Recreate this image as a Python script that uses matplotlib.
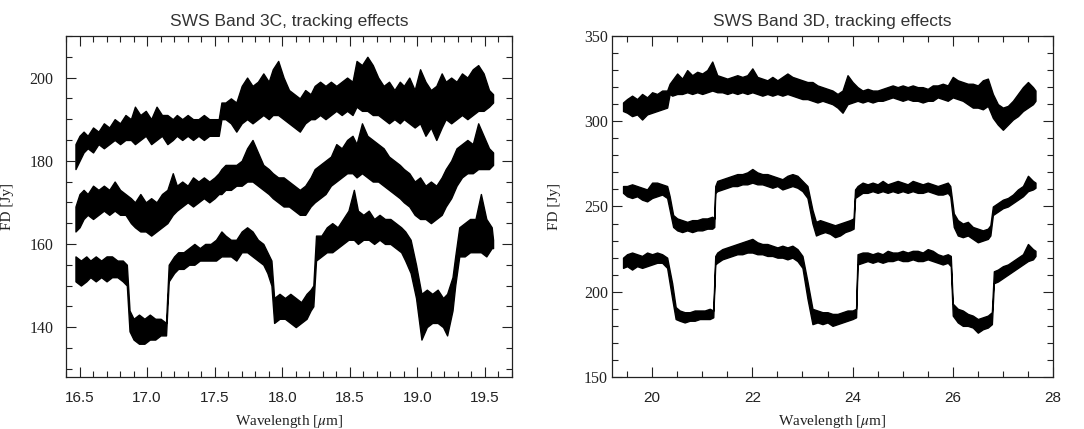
import matplotlib
matplotlib.use("Agg")
import matplotlib.pyplot as plt
from matplotlib.ticker import MultipleLocator

# ---- SWS band 3C (left panel): three scans, lower / upper noise envelope [Jy]
wl_3c = [16.47, 16.50, 16.53, 16.56, 16.60, 16.64, 16.68, 16.72, 16.76, 16.80,
         16.84, 16.88, 16.91, 16.95, 16.99, 17.03, 17.07, 17.11, 17.15, 17.19,
         17.22, 17.26, 17.30, 17.34, 17.38, 17.42, 17.46, 17.50, 17.53, 17.55,
         17.58, 17.62, 17.66, 17.70, 17.74, 17.78, 17.82, 17.86, 17.90, 17.93,
         17.97, 18.01, 18.05, 18.09, 18.13, 18.17, 18.21, 18.24, 18.28, 18.32,
         18.36, 18.40, 18.44, 18.48, 18.52, 18.55, 18.59, 18.63, 18.67, 18.71,
         18.75, 18.79, 18.83, 18.87, 18.90, 18.94, 18.98, 19.02, 19.06, 19.10,
         19.14, 19.18, 19.21, 19.25, 19.29, 19.33, 19.37, 19.41, 19.45, 19.49,
         19.53, 19.56]
top_3c_lo = [178, 180, 182, 183, 182, 184, 183, 184, 185, 184,
             185, 185, 184, 185, 186, 184, 185, 186, 184, 185,
             186, 185, 186, 185, 186, 185, 186, 186, 186, 190,
             190, 189, 187, 189, 190, 189, 190, 191, 190, 191,
             191, 190, 189, 188, 187, 189, 190, 190, 191, 190,
             191, 192, 191, 192, 191, 193, 192, 192, 191, 191,
             190, 189, 190, 189, 190, 189, 188, 189, 186, 188,
             185, 188, 190, 189, 190, 191, 190, 191, 192, 192,
             193, 194]
top_3c_hi = [184, 186, 187, 186, 188, 187, 189, 188, 190, 189,
             191, 190, 193, 191, 192, 190, 193, 191, 191, 190,
             191, 190, 191, 190, 190, 191, 190, 190, 190, 194,
             194, 195, 194, 198, 200, 198, 199, 201, 199, 202,
             204, 200, 197, 196, 195, 197, 196, 198, 199, 198,
             199, 198, 199, 200, 199, 204, 203, 205, 203, 200,
             198, 199, 197, 199, 198, 200, 197, 202, 199, 197,
             198, 201, 199, 200, 199, 201, 200, 202, 203, 201,
             197, 196]
mid_3c_lo = [163, 164, 166, 167, 166, 167, 168, 167, 168, 167,
             167, 165, 164, 163, 163, 162, 163, 164, 165, 167,
             168, 169, 170, 169, 170, 171, 170, 171, 172, 172,
             173, 173, 174, 174, 175, 175, 174, 173, 172, 171,
             170, 169, 169, 168, 167, 167, 169, 170, 171, 172,
             174, 175, 176, 177, 177, 176, 177, 176, 175, 175,
             174, 173, 172, 171, 170, 169, 167, 166, 166, 165,
             166, 167, 169, 171, 174, 176, 177, 177, 178, 178,
             178, 179]
mid_3c_hi = [169, 172, 173, 172, 174, 173, 174, 173, 175, 173,
             172, 171, 170, 172, 170, 171, 170, 172, 173, 177,
             174, 175, 174, 176, 175, 176, 175, 176, 177, 178,
             179, 179, 179, 180, 183, 185, 182, 179, 178, 177,
             176, 176, 175, 174, 173, 174, 176, 178, 179, 180,
             181, 184, 183, 185, 186, 184, 189, 186, 185, 184,
             183, 181, 180, 179, 178, 177, 175, 176, 174, 175,
             174, 176, 178, 180, 183, 184, 185, 184, 189, 186,
             183, 182]

wl_3c_low = [16.47, 16.51, 16.55, 16.58, 16.62, 16.66, 16.70, 16.74, 16.78, 16.82,
             16.85, 16.87, 16.90, 16.94, 16.98, 17.02, 17.06, 17.10, 17.14, 17.16,
             17.20, 17.23, 17.27, 17.31, 17.35, 17.39, 17.43, 17.47, 17.51, 17.55,
             17.58, 17.62, 17.66, 17.70, 17.74, 17.78, 17.82, 17.86, 17.89, 17.92,
             17.94, 17.98, 18.02, 18.06, 18.10, 18.14, 18.18, 18.21, 18.23, 18.25,
             18.29, 18.33, 18.37, 18.41, 18.45, 18.49, 18.53, 18.56, 18.60, 18.64,
             18.68, 18.72, 18.76, 18.80, 18.84, 18.88, 18.91, 18.95, 18.99, 19.03,
             19.07, 19.11, 19.15, 19.19, 19.22, 19.26, 19.28, 19.31, 19.35, 19.39,
             19.43, 19.47, 19.51, 19.55, 19.56]
low_3c_lo = [151, 150, 151, 152, 151, 152, 151, 152, 152, 151,
             150, 139, 137, 136, 136, 137, 137, 138, 138, 151,
             153, 154, 154, 155, 155, 156, 156, 156, 156, 157,
             157, 157, 156, 158, 158, 157, 156, 155, 153, 150,
             141, 142, 142, 141, 140, 141, 142, 144, 145, 156,
             157, 158, 158, 159, 160, 161, 161, 160, 161, 161,
             160, 161, 160, 160, 159, 158, 156, 153, 147, 137,
             140, 141, 141, 140, 138, 144, 150, 157, 157, 158,
             158, 158, 157, 159, 159]
low_3c_hi = [157, 156, 157, 156, 157, 156, 157, 157, 156, 156,
             155, 144, 142, 143, 142, 143, 142, 142, 141, 155,
             157, 158, 158, 159, 160, 159, 160, 160, 161, 163,
             162, 161, 161, 163, 164, 163, 161, 160, 158, 156,
             147, 148, 147, 148, 147, 146, 148, 149, 150, 162,
             162, 164, 165, 164, 166, 168, 173, 168, 167, 168,
             166, 167, 166, 166, 165, 164, 163, 161, 155, 148,
             149, 148, 149, 147, 148, 152, 157, 164, 165, 166,
             166, 172, 166, 164, 161]

# ---- SWS band 3D (right panel)
wl_3d_top = [19.42, 19.5, 19.6, 19.7, 19.8, 19.9, 20.0, 20.1, 20.2, 20.3,
             20.35, 20.4, 20.5, 20.6, 20.7, 20.8, 20.9, 21.0, 21.1, 21.2,
             21.3, 21.4, 21.5, 21.6, 21.7, 21.8, 21.9, 22.0, 22.1, 22.2,
             22.3, 22.4, 22.5, 22.6, 22.7, 22.8, 22.9, 23.0, 23.1, 23.2,
             23.3, 23.4, 23.5, 23.6, 23.7, 23.8, 23.9, 24.0, 24.1, 24.2,
             24.3, 24.4, 24.5, 24.6, 24.7, 24.8, 24.9, 25.0, 25.1, 25.2,
             25.3, 25.4, 25.5, 25.6, 25.7, 25.8, 25.9, 26.0, 26.1, 26.2,
             26.3, 26.4, 26.5, 26.6, 26.7, 26.8, 26.9, 27.0, 27.1, 27.2,
             27.3, 27.4, 27.5, 27.6, 27.65]
top_3d_lo = [306, 305, 303, 304, 301, 304, 305, 306, 307, 308,
             316, 315, 316, 316, 317, 316, 317, 316, 317, 318,
             317, 317, 316, 317, 316, 317, 316, 317, 316, 315,
             316, 315, 316, 315, 316, 315, 314, 313, 313, 312,
             311, 312, 311, 310, 308, 305, 310, 311, 312, 311,
             312, 311, 312, 312, 313, 314, 313, 312, 313, 312,
             312, 311, 312, 312, 314, 313, 312, 314, 313, 312,
             310, 308, 308, 307, 309, 302, 298, 295, 298, 301,
             303, 306, 308, 310, 312]
top_3d_hi = [311, 313, 315, 313, 316, 314, 317, 316, 318, 318,
             322, 324, 328, 325, 330, 327, 329, 328, 330, 335,
             327, 326, 325, 326, 327, 326, 327, 331, 326, 325,
             324, 326, 324, 326, 328, 326, 325, 324, 323, 323,
             321, 320, 319, 318, 316, 318, 327, 323, 320, 318,
             319, 318, 318, 319, 320, 321, 320, 321, 320, 321,
             320, 320, 319, 321, 321, 322, 321, 326, 324, 323,
             322, 322, 321, 324, 325, 316, 310, 308, 309, 312,
             316, 320, 323, 320, 318]

wl_3d_mid = [19.42, 19.5, 19.6, 19.7, 19.8, 19.9, 20.0, 20.1, 20.2, 20.3,
             20.35, 20.42, 20.5, 20.6, 20.7, 20.8, 20.9, 21.0, 21.1, 21.2,
             21.24, 21.26, 21.3, 21.4, 21.5, 21.6, 21.7, 21.8, 21.9, 22.0,
             22.1, 22.2, 22.3, 22.4, 22.5, 22.6, 22.7, 22.8, 22.9, 23.0,
             23.1, 23.2, 23.27, 23.35, 23.45, 23.55, 23.65, 23.75, 23.85, 23.95,
             24.02, 24.05, 24.1, 24.2, 24.3, 24.4, 24.5, 24.6, 24.7, 24.8,
             24.9, 25.0, 25.1, 25.2, 25.3, 25.4, 25.5, 25.6, 25.7, 25.8,
             25.9, 25.95, 26.02, 26.1, 26.2, 26.3, 26.4, 26.5, 26.6, 26.7,
             26.75, 26.8, 26.9, 27.0, 27.1, 27.2, 27.3, 27.4, 27.5, 27.6,
             27.65]
mid_3d_lo = [258, 256, 255, 256, 254, 253, 255, 256, 257, 255,
             248, 238, 236, 235, 236, 235, 236, 236, 237, 237,
             238, 258, 259, 260, 261, 262, 262, 263, 263, 264,
             263, 263, 262, 261, 262, 260, 261, 262, 261, 259,
             255, 240, 233, 234, 235, 234, 232, 233, 235, 236,
             237, 255, 256, 258, 258, 259, 258, 259, 258, 259,
             258, 259, 258, 259, 258, 258, 259, 258, 257, 257,
             258, 256, 238, 233, 232, 233, 231, 229, 230, 231,
             233, 245, 247, 249, 250, 252, 254, 256, 259, 260,
             261]
mid_3d_hi = [262, 262, 263, 262, 261, 260, 264, 264, 263, 262,
             256, 245, 243, 242, 241, 242, 242, 243, 243, 244,
             243, 262, 265, 266, 267, 268, 269, 269, 270, 272,
             270, 269, 269, 268, 267, 266, 268, 269, 268, 265,
             262, 248, 241, 242, 241, 240, 239, 240, 241, 242,
             243, 260, 262, 264, 263, 264, 263, 265, 263, 264,
             265, 264, 263, 265, 264, 263, 264, 263, 262, 263,
             264, 262, 246, 242, 240, 241, 238, 237, 236, 237,
             239, 250, 252, 254, 255, 257, 260, 262, 268, 265,
             264]

wl_3d_low = [19.42, 19.5, 19.6, 19.7, 19.8, 19.9, 20.0, 20.1, 20.2, 20.3,
             20.4, 20.47, 20.55, 20.65, 20.75, 20.85, 20.95, 21.05, 21.15, 21.22,
             21.26, 21.3, 21.4, 21.5, 21.6, 21.7, 21.8, 21.9, 22.0, 22.1,
             22.2, 22.3, 22.4, 22.5, 22.6, 22.7, 22.8, 22.9, 23.0, 23.1,
             23.2, 23.3, 23.4, 23.5, 23.6, 23.7, 23.8, 23.9, 24.0, 24.07,
             24.1, 24.2, 24.3, 24.4, 24.5, 24.6, 24.7, 24.8, 24.9, 25.0,
             25.1, 25.2, 25.3, 25.4, 25.5, 25.6, 25.7, 25.8, 25.9, 25.96,
             26.0, 26.1, 26.2, 26.3, 26.4, 26.5, 26.6, 26.7, 26.78, 26.82,
             26.9, 27.0, 27.1, 27.2, 27.3, 27.4, 27.5, 27.6, 27.65]
low_3d_lo = [214, 215, 213, 215, 214, 215, 216, 217, 217, 214,
             196, 184, 183, 182, 183, 183, 184, 184, 184, 185,
             216, 217, 219, 220, 221, 222, 222, 223, 223, 222,
             222, 221, 221, 220, 220, 219, 220, 218, 214, 196,
             181, 182, 181, 182, 180, 181, 182, 183, 184, 185,
             216, 217, 218, 217, 218, 217, 218, 218, 219, 218,
             218, 219, 218, 218, 219, 218, 217, 216, 217, 215,
             186, 182, 180, 180, 179, 176, 178, 179, 181, 205,
             206, 208, 210, 212, 214, 216, 218, 219, 221]
low_3d_hi = [220, 222, 223, 222, 221, 223, 222, 223, 222, 220,
             205, 191, 189, 188, 188, 189, 189, 189, 190, 189,
             221, 223, 225, 226, 227, 228, 229, 230, 231, 229,
             228, 228, 227, 226, 227, 226, 227, 225, 221, 206,
             190, 189, 188, 188, 187, 187, 188, 189, 189, 190,
             222, 223, 223, 222, 223, 222, 224, 223, 223, 224,
             223, 224, 224, 223, 225, 224, 222, 221, 222, 221,
             193, 190, 189, 187, 186, 184, 185, 186, 188, 212,
             213, 215, 216, 218, 220, 222, 228, 225, 224]

titles = ["SWS Band 3C, tracking effects", "SWS Band 3D, tracking effects"]

plt.rcParams["mathtext.fontset"] = "stix"
SANS = "Liberation Sans"
SERIF = "Liberation Serif"
INK = "#222222"


def style_axes(ax, xlim, ylim, xmaj, xmin, ymaj, ymin, ypad):
    ax.set_xlim(*xlim)
    ax.set_ylim(*ylim)
    ax.xaxis.set_major_locator(MultipleLocator(xmaj))
    ax.xaxis.set_minor_locator(MultipleLocator(xmin))
    ax.yaxis.set_major_locator(MultipleLocator(ymaj))
    ax.yaxis.set_minor_locator(MultipleLocator(ymin))
    ax.tick_params(which="both", direction="in", top=True, right=True,
                   color=INK, width=0.8)
    ax.tick_params(which="major", length=7)
    ax.tick_params(which="minor", length=4)
    ax.tick_params(axis="x", pad=10)
    ax.tick_params(axis="y", pad=ypad)
    for lab in ax.get_xticklabels():
        lab.set_fontfamily(SANS)
        lab.set_fontsize(11)
        lab.set_color(INK)
    for lab in ax.get_yticklabels():
        lab.set_fontfamily(SERIF)
        lab.set_fontsize(11.5)
        lab.set_color(INK)
    for sp in ax.spines.values():
        sp.set_linewidth(0.9)
        sp.set_color(INK)
    ax.set_xlabel(r"Wavelength [$\mu$m]", fontfamily=SERIF, fontsize=11, color=INK)
    ax.set_ylabel("FD [Jy]", fontfamily=SERIF, fontsize=11, color=INK)
    ax.xaxis.set_label_coords(0.5, -0.105)


def band(ax, wl, lo, hi):
    # noisy scan drawn as its min/max envelope
    ax.fill_between(wl, lo, hi, facecolor="black", edgecolor="black", linewidth=1.0)


fig = plt.figure(figsize=(10.84, 4.29), dpi=100)
ax1 = fig.add_axes([0.0609, 0.1212, 0.4114, 0.7949])
ax2 = fig.add_axes([0.5646, 0.1212, 0.4068, 0.7949])

band(ax1, wl_3c, top_3c_lo, top_3c_hi)
band(ax1, wl_3c, mid_3c_lo, mid_3c_hi)
band(ax1, wl_3c_low, low_3c_lo, low_3c_hi)
band(ax2, wl_3d_top, top_3d_lo, top_3d_hi)
band(ax2, wl_3d_mid, mid_3d_lo, mid_3d_hi)
band(ax2, wl_3d_low, low_3d_lo, low_3d_hi)

style_axes(ax1, (16.4, 19.7), (128, 210), 0.5, 0.1, 20, 5, ypad=9)
style_axes(ax2, (19.2, 28.0), (150, 350), 2, 0.5, 50, 10, ypad=3)
ax1.yaxis.set_label_coords(-0.117, 0.5)
ax2.yaxis.set_label_coords(-0.116, 0.5)

for ax, t in zip((ax1, ax2), titles):
    ax.set_title(t, fontfamily=SANS, fontsize=12.5, color="#333333", pad=7)

fig.savefig("out.png", dpi=100)
